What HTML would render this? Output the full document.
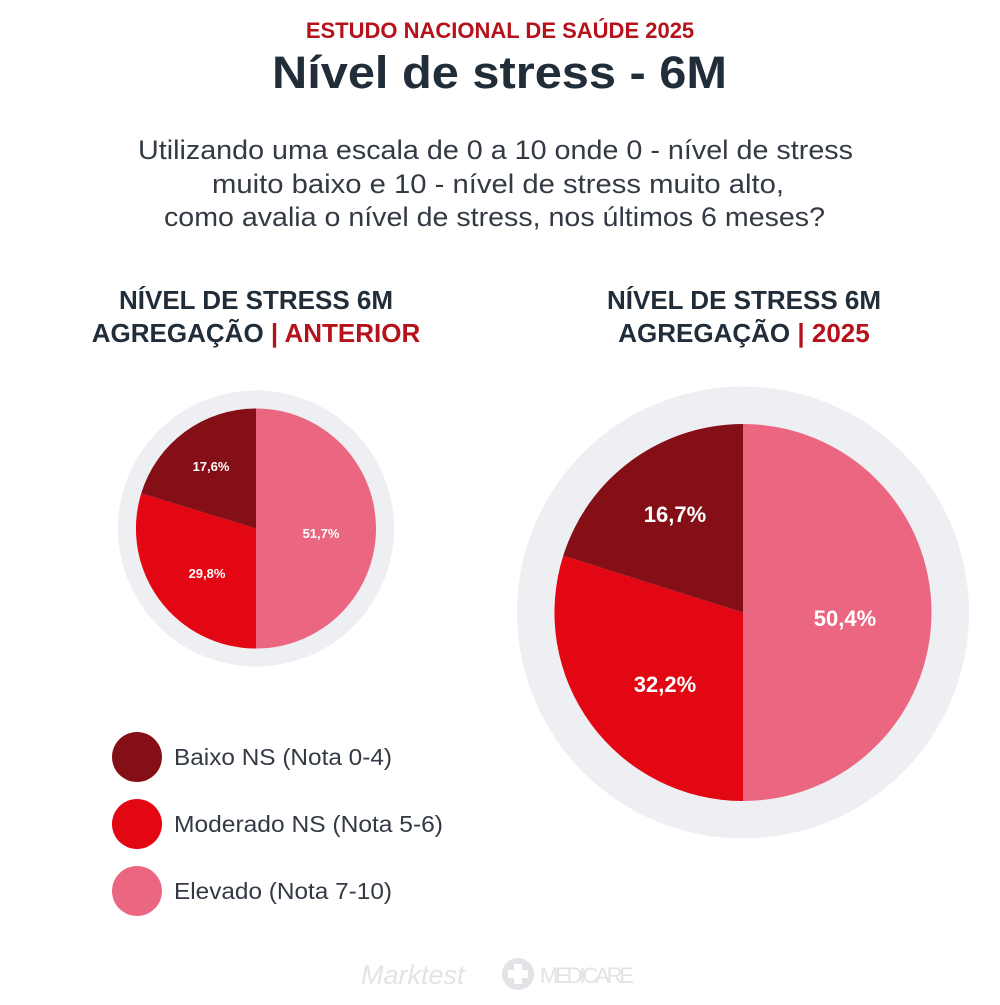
<!DOCTYPE html>
<html><head><meta charset="utf-8"><style>
body{margin:0;width:1000px;height:1000px;background:#fff;overflow:hidden}
svg text{font-family:"Liberation Sans",Arial,sans-serif}
</style></head><body>
<svg width="1000" height="1000" viewBox="0 0 1000 1000">
<text x="500" y="38" text-anchor="middle" font-size="22" font-weight="bold" fill="#b5121b">ESTUDO NACIONAL DE SAÚDE 2025</text>
<text x="272" y="88" font-size="45" font-weight="bold" fill="#222d3a" textLength="455" lengthAdjust="spacingAndGlyphs">Nível de stress - 6M</text>
<g font-size="27" fill="#333a44">
<text x="138" y="159" textLength="715" lengthAdjust="spacingAndGlyphs">Utilizando uma escala de 0 a 10 onde 0 - nível de stress</text>
<text x="212" y="193" textLength="572" lengthAdjust="spacingAndGlyphs">muito baixo e 10 - nível de stress muito alto,</text>
<text x="164" y="226" textLength="661" lengthAdjust="spacingAndGlyphs">como avalia o nível de stress, nos últimos 6 meses?</text>
</g>
<g font-size="26" font-weight="bold" fill="#222d3a" text-anchor="middle">
<text x="256" y="309">NÍVEL DE STRESS 6M</text>
<text x="256" y="342">AGREGAÇÃO <tspan fill="#b5121b">| ANTERIOR</tspan></text>
<text x="744" y="309">NÍVEL DE STRESS 6M</text>
<text x="744" y="342">AGREGAÇÃO <tspan fill="#b5121b">| 2025</tspan></text>
</g>
<circle cx="256" cy="528.5" r="138" fill="#eeeff2"/>
<path d="M256,528.5 L256,408.5 A120,120 0 0 1 256,648.5 Z" fill="#eb6680"/>
<path d="M256,528.5 L256,648.5 A120,120 0 0 1 141.2,493.4 Z" fill="#e30613"/>
<path d="M256,528.5 L141.2,493.4 A120,120 0 0 1 256,408.5 Z" fill="#850f17"/>
<g font-size="13" font-weight="bold" fill="#fff" text-anchor="middle">
<text x="211" y="471">17,6%</text><text x="321" y="538">51,7%</text><text x="207" y="578">29,8%</text>
</g>
<circle cx="743" cy="612.5" r="226" fill="#eeeff2"/>
<path d="M743,612.5 L743,424 A188.5,188.5 0 0 1 743,801 Z" fill="#eb6680"/>
<path d="M743,612.5 L743,801 A188.5,188.5 0 0 1 563.2,555.8 Z" fill="#e30613"/>
<path d="M743,612.5 L563.2,555.8 A188.5,188.5 0 0 1 743,424 Z" fill="#850f17"/>
<g font-size="22" font-weight="bold" fill="#fff" text-anchor="middle">
<text x="675" y="522">16,7%</text><text x="845" y="626">50,4%</text><text x="665" y="692">32,2%</text>
</g>
<circle cx="137" cy="757" r="25" fill="#850f17"/>
<circle cx="137" cy="824" r="25" fill="#e30613"/>
<circle cx="137" cy="891" r="25" fill="#eb6680"/>
<g font-size="23" fill="#333a44">
<text x="174" y="765" textLength="218" lengthAdjust="spacingAndGlyphs">Baixo NS (Nota 0-4)</text>
<text x="174" y="832" textLength="269" lengthAdjust="spacingAndGlyphs">Moderado NS (Nota 5-6)</text>
<text x="174" y="899" textLength="218" lengthAdjust="spacingAndGlyphs">Elevado (Nota 7-10)</text>
</g>
<text x="361" y="984" font-size="27" font-style="italic" fill="#e2e3e6">Marktest</text>
<circle cx="518" cy="974" r="16" fill="#e2e3e6"/>
<path d="M514,964h8v6h6v8h-6v6h-8v-6h-6v-8h6z" fill="#fff"/>
<text x="540" y="983" font-size="22" fill="#e2e3e6" textLength="94">MEDICARE</text>
</svg>
</body></html>
